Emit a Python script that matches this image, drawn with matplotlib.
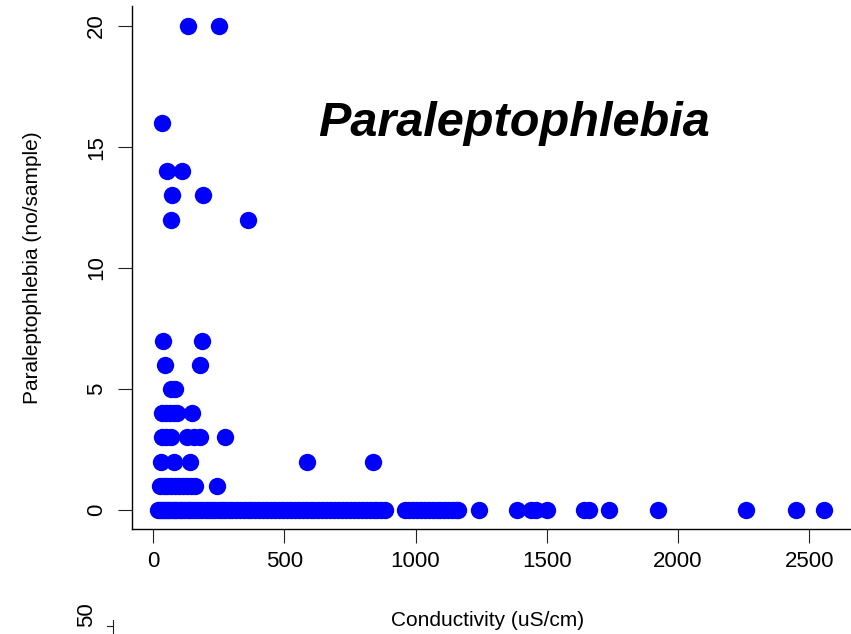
import numpy as np
import matplotlib
matplotlib.use("Agg")
import matplotlib.pyplot as plt
from matplotlib.lines import Line2D

plt.rcParams['font.family'] = ['Liberation Sans', 'DejaVu Sans']

# counts per sample, with the conductivity of every sample at that count
cond_0 = [20, 28, 35, 42, 50, 58, 66, 75, 84, 93, 102, 112, 122, 132, 142,
          152, 163, 175, 187, 200, 212, 225, 238, 250, 262, 275, 288, 300,
          315, 330, 345, 360, 375, 390, 405, 420, 435, 450, 465, 480, 495,
          510, 525, 540, 555, 570, 585, 600, 615, 630, 645, 660, 675, 690,
          705, 720, 735, 750, 765, 780, 795, 810, 825, 840, 855, 870, 885,
          960, 975, 990, 1005, 1020, 1035, 1050, 1065, 1080, 1095, 1110,
          1125, 1140, 1155, 1162, 1242, 1385, 1440, 1460, 1500, 1640, 1662,
          1738, 1925, 2260, 2448, 2555]
cond_1 = [27, 40, 55, 70, 85, 100, 115, 130, 145, 160, 242]
cond_2 = [31, 79, 140, 587, 838]
cond_3 = [35, 50, 69, 131, 155, 178, 274]
cond_4 = [35, 50, 65, 80, 90, 148]
cond_5 = [68, 84]
cond_6 = [45, 178]
cond_7 = [38, 185]
cond_12 = [68, 362]
cond_13 = [72, 190]
cond_14 = [53, 110]
cond_16 = [35]
cond_20 = [133, 251]

groups = [(0, cond_0), (1, cond_1), (2, cond_2), (3, cond_3), (4, cond_4),
          (5, cond_5), (6, cond_6), (7, cond_7), (12, cond_12), (13, cond_13),
          (14, cond_14), (16, cond_16), (20, cond_20)]

x = []
y = []
for count, conds in groups:
    for c in conds:
        x.append(c)
        y.append(count)

fig = plt.figure(figsize=(8.51, 6.34), dpi=100)
ax = fig.add_axes([132/851, 105/634, 719/851, 523/634])

ax.plot(x, y, 'o', color='#0000ff', ms=12.5, mec='none', antialiased=False)

ax.set_xlim(-80, 2659)
ax.set_ylim(-0.785, 20.83)
ax.set_xticks([0, 500, 1000, 1500, 2000, 2500])
ax.set_yticks([0, 5, 10, 15, 20])
ax.tick_params(direction='out', length=10, width=0.8, labelsize=16, color='#222222')
ax.tick_params(axis='x', pad=6)
ax.tick_params(axis='y', pad=8)
for lab in ax.get_yticklabels():
    lab.set_rotation(90)
    lab.set_va('center')

ax.spines['top'].set_visible(False)
ax.spines['right'].set_visible(False)
ax.spines['left'].set_linewidth(1.0)
ax.spines['bottom'].set_linewidth(1.0)

ax.set_xlabel("Conductivity (uS/cm)", fontsize=15)
ax.xaxis.label.set_va('center')
ax.xaxis.set_label_coords((488 - 132) / 719, (529 - 620) / 523)
ax.set_ylabel("Paraleptophlebia (no/sample)", fontsize=15)
ax.yaxis.label.set_va('center')
ax.yaxis.set_label_coords((33 - 132) / 719, (529 - 268) / 523)

ax.text((514 - 132) / 719, (529 - 136) / 523, "Paraleptophlebia",
        transform=ax.transAxes, ha='center', va='baseline',
        fontsize=35, fontweight='bold', fontstyle='italic')

# stray axis piece left over from a neighbouring panel
fig.text(87 / 851, 1 - 615 / 634, "50", rotation=90, fontsize=16,
         ha='center', va='center')
fig.add_artist(Line2D([107/851, 113/851], [1 - 626/634, 1 - 626/634],
                      color='#222222', lw=0.8))
fig.add_artist(Line2D([113/851, 113/851], [1 - 620/634, 1 - 634/634],
                      color='#222222', lw=0.8))

fig.savefig("out.png", dpi=100)
